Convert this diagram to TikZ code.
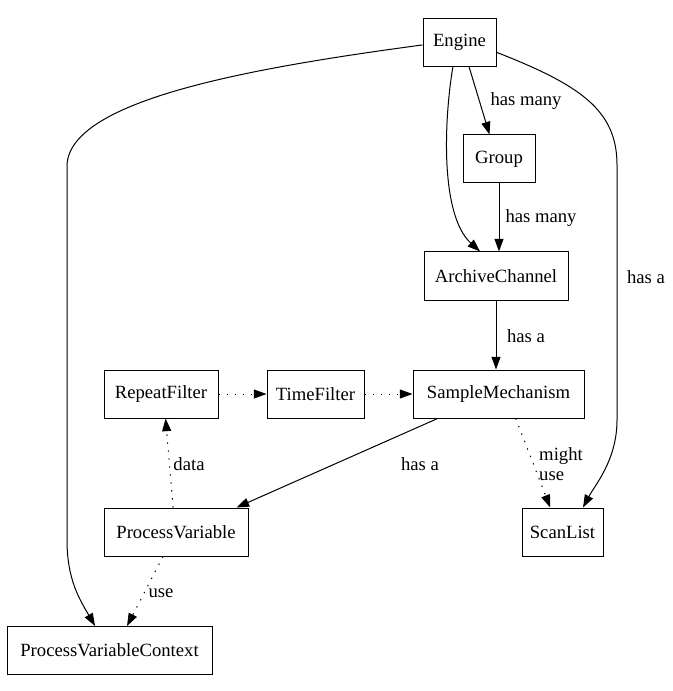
\documentclass[tikz,border=0pt]{standalone}
\usepackage{fontspec}
\setmainfont{Liberation Serif}
\usetikzlibrary{arrows.meta,calc}
\begin{document}
\begin{tikzpicture}[x=0.75pt,y=-0.75pt,
  box/.style={draw,line width=0.75pt,inner sep=0pt,minimum height=36pt,font=\fontsize{14pt}{16pt}\selectfont},
  lbl/.style={inner sep=0pt,font=\fontsize{14pt}{15pt}\selectfont},
  link/.style={line width=0.75pt,-{Triangle[length=9.5pt,width=6.75pt]}},
  dotlink/.style={link,dash pattern=on 1pt off 5pt}]
\useasboundingbox (0,0) rectangle (672,691);
% classes
\node[box,minimum width=54.75pt] (engine) at (459.5,42.5) {Engine};
\node[box,minimum width=54pt] (group) at (499,159) {Group};
\node[box,minimum width=108pt] (ac) at (496,276) {ArchiveChannel};
\node[box,minimum width=85.5pt] (rf) at (161,394) {RepeatFilter};
\node[box,minimum width=72.75pt] (tf) at (315.5,394) {TimeFilter};
\node[box,minimum width=128.25pt] (sm) at (498.5,394) {SampleMechanism};
\node[box,minimum width=108pt] (pv) at (176,532) {ProcessVariable};
\node[box,minimum width=60.75pt] (sl) at (562.5,532) {ScanList};
\node[box,minimum width=153.75pt] (pvc) at (109.5,650.5) {ProcessVariableContext};
% relations from Engine
\draw[link] ($(engine.north west)!0.55!(engine.south west)$) .. controls (250,68) and (70,100) .. (67,165)
  -- (67,540) .. controls (67,580) and (80,600) .. ($(pvc.north west)!0.43!(pvc.north east)$);
\draw[link] ($(engine.south west)!0.63!(engine.south east)$) -- ($(group.north west)!0.37!(group.north east)$);
\draw[link] ($(engine.south west)!0.41!(engine.south east)$) .. controls (444,120) and (440,215) .. ($(ac.north west)!0.39!(ac.north east)$);
\draw[link] ($(engine.north east)!0.7!(engine.south east)$) .. controls (580,85) and (617,110) .. (617,165)
  -- (617,420) .. controls (617,460) and (595,485) .. ($(sl.north west)!0.75!(sl.north east)$);
\draw[link] (group.south) -- (group.south |- ac.north);
\draw[link] (ac.south) -- (ac.south |- sm.north);
% filter chain
\draw[dotlink] (rf.east) -- (tf.west);
\draw[dotlink] (tf.east) -- (sm.west);
\draw[link] ($(sm.south west)!0.146!(sm.south east)$) -- ($(pv.north west)!0.917!(pv.north east)$);
\draw[dotlink] ($(sm.south west)!0.6!(sm.south east)$) -- ($(sl.north west)!0.35!(sl.north east)$);
\draw[dotlink] ($(pv.north west)!0.48!(pv.north east)$) -- ($(rf.south west)!0.54!(rf.south east)$);
\draw[dotlink] ($(pv.south west)!0.41!(pv.south east)$) -- ($(pvc.north west)!0.585!(pvc.north east)$);
% labels
\node[lbl] (l1) at (526,101) {has many};
\node[lbl] (l2) at (541,218) {has many};
\node[lbl] (l3) at (646,277) {has a};
\node[lbl] (l4) at (526,336) {has a};
\node[lbl] (l5) at (420,464) {has a};
\node[lbl,align=left] (l6) at (561,464) {might\\use};
\node[lbl] (l7) at (189,464) {data};
\node[lbl] (l8) at (161,593) {use};
\end{tikzpicture}
\end{document}
